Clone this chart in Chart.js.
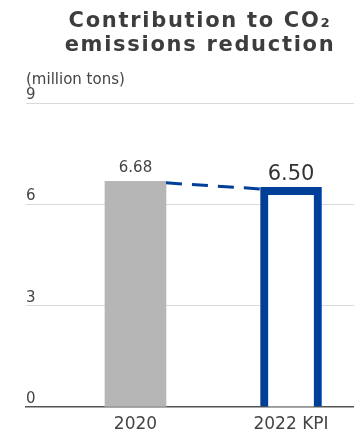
<!DOCTYPE html>
<html>
<head>
<meta charset="utf-8">
<title>Contribution to CO₂ emissions reduction</title>
<script src="https://cdn.jsdelivr.net/npm/chart.js@4/dist/chart.umd.min.js"></script>
<style>
  html, body { margin: 0; padding: 0; background: #ffffff; }
  #wrap { width: 354px; height: 433px; position: relative; }
</style>
</head>
<body>
<div id="wrap"><canvas id="chart"></canvas></div>
<script>
// Chart content
const titleLines = ['Contribution to CO₂', 'emissions reduction'];
const unitLabel = '(million tons)';
const categories = ['2020', '2022 KPI'];
const reductionValues = [6.68, 6.50];
const yTickValues = [0, 3, 6, 9];

const GRAY = '#b5b6b5';
const BLUE = '#003f98';
const TEXT = '#3d3d3d';

// Title and unit caption drawn above the plot
const headerPlugin = {
  id: 'header',
  afterDraw(chart) {
    const ctx = chart.ctx;
    ctx.save();
    ctx.fillStyle = TEXT;
    ctx.textAlign = 'center';
    ctx.textBaseline = 'alphabetic';
    ctx.font = 'bold 21px "DejaVu Sans"';
    ctx.letterSpacing = '1.7px';
    ctx.fillText(titleLines[0], 200, 27);
    ctx.fillText(titleLines[1], 200, 51);
    ctx.letterSpacing = '0px';
    ctx.textAlign = 'left';
    ctx.font = '15px "DejaVu Sans"';
    ctx.fillStyle = '#444444';
    ctx.fillText(unitLabel, chart.chartArea.left, 84);
    ctx.restore();
  }
};

// Dashed connector between the two bar tops, plus the value labels
const barExtrasPlugin = {
  id: 'barExtras',
  afterDatasetsDraw(chart) {
    const ctx = chart.ctx;
    const bars = chart.getDatasetMeta(0).data;
    if (bars.length < 2) return;
    const a = bars[0], b = bars[1];
    ctx.save();
    ctx.strokeStyle = BLUE;
    ctx.lineWidth = 3;
    ctx.setLineDash([16, 10]);
    ctx.beginPath();
    ctx.moveTo(a.x + a.width / 2, a.y + 1.5);
    ctx.lineTo(b.x - b.width / 2, b.y + 1.5);
    ctx.stroke();
    ctx.setLineDash([]);

    const labelFonts = ['15px "DejaVu Sans"', '21px "DejaVu Sans"'];
    const labelGaps = [9, 7];
    ctx.textAlign = 'center';
    ctx.textBaseline = 'alphabetic';
    bars.forEach((bar, i) => {
      ctx.font = labelFonts[i];
      ctx.fillStyle = i === 0 ? '#444444' : '#333333';
      ctx.fillText(reductionValues[i].toFixed(2), bar.x, bar.y - labelGaps[i]);
    });
    ctx.restore();
  }
};

const points = categories.map((c, i) => ({ x: i, y: reductionValues[i] }));

new Chart(document.getElementById('chart'), {
  type: 'bar',
  data: {
    datasets: [{
      data: points,
      backgroundColor: [GRAY, '#ffffff'],
      borderColor: [GRAY, BLUE],
      borderWidth: [0, 8],
      borderSkipped: 'start',
      barThickness: 61
    }]
  },
  options: {
    responsive: true,
    maintainAspectRatio: false,
    animation: false,
    layout: { padding: { left: 26, right: 0, top: 103, bottom: 0 } },
    plugins: {
      legend: { display: false },
      tooltip: { enabled: false },
      title: { display: false }
    },
    scales: {
      x: {
        type: 'linear',
        offset: false,
        min: -0.704,
        max: 1.405,
        afterBuildTicks(scale) {
          scale.ticks = categories.map((c, i) => ({ value: i }));
        },
        afterFit(scale) {
          scale.height = 26;
        },
        ticks: {
          callback: (v) => categories[v],
          font: { family: '"DejaVu Sans"', size: 17, lineHeight: 1 },
          color: '#444444',
          padding: 9,
          maxRotation: 0,
          autoSkip: false
        },
        grid: { display: false, drawTicks: false },
        border: { display: true, color: '#555555', width: 1.5 }
      },
      y: {
        min: 0,
        max: 9,
        afterBuildTicks(scale) {
          scale.ticks = yTickValues.map(v => ({ value: v }));
        },
        afterFit(scale) {
          scale.paddingTop = 0;
          scale.paddingBottom = 0;
        },
        ticks: {
          mirror: true,
          padding: 0,
          labelOffset: -8,
          font: { family: '"DejaVu Sans"', size: 15 },
          color: '#444444'
        },
        grid: {
          drawTicks: false,
          color: (c) => c.tick && c.tick.value === 0 ? 'rgba(0,0,0,0)' : '#d9d9d9',
          lineWidth: 1
        },
        border: { display: false }
      }
    }
  },
  plugins: [headerPlugin, barExtrasPlugin]
});
</script>
</body>
</html>
